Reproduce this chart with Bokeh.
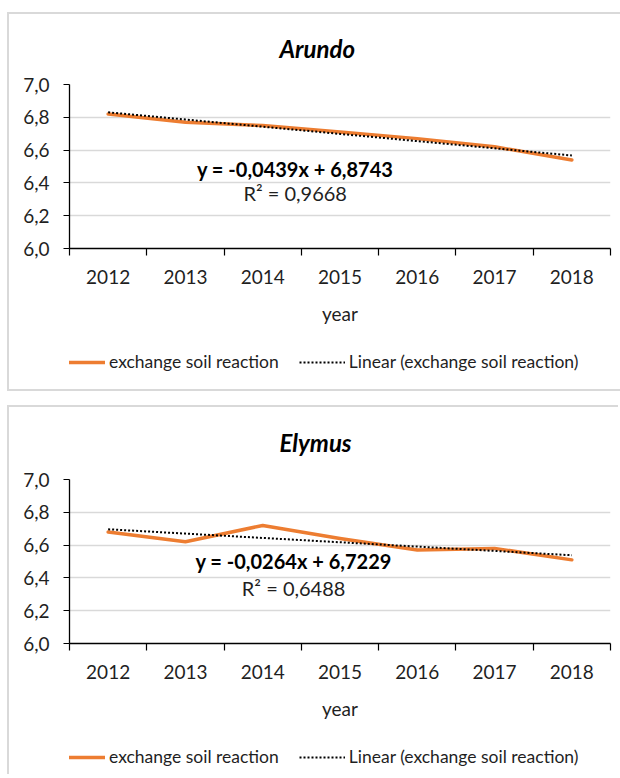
from bokeh.plotting import figure
from bokeh.layouts import column, row
from bokeh.models import FixedTicker, Legend, LegendItem, Title, Spacer
from bokeh.core.properties import value
from bokeh.embed import file_html
from bokeh.resources import INLINE

# ---- data ----
years = [2012, 2013, 2014, 2015, 2016, 2017, 2018]
arundo = [6.82, 6.77, 6.75, 6.71, 6.67, 6.62, 6.54]
elymus = [6.68, 6.62, 6.72, 6.64, 6.57, 6.58, 6.51]
arundo_fit = [-0.0439, 6.8743, 0.9668]   # slope, intercept, R²
elymus_fit = [-0.0264, 6.7229, 0.6488]
y_ticks = [6.0, 6.2, 6.4, 6.6, 6.8, 7.0]
y_tick_labels = ["6,0", "6,2", "6,4", "6,6", "6,8", "7,0"]
titles = ["Arundo", "Elymus"]
x_label = "year"
series_label = "exchange soil reaction"
trend_label = "Linear (exchange soil reaction)"

FONT = "Lato"
TXT = "#1f1f1f"
ORANGE = "#ED7D31"
W = 611


def fmt(v):
    return f"{v:.4f}".replace(".", ",")


def trend_of(fit):
    slope, intercept, _ = fit
    return [slope * (y - years[0] + 1) + intercept for y in years]


def make_chart(title, vals, fit, height, mb_top, title_standoff, eq_pos, r2_pos):
    slope, intercept, r2 = fit
    p = figure(width=W, height=height, x_range=(years[0] - 0.5, years[-1] + 0.5),
               y_range=(y_ticks[0], y_ticks[-1]), output_backend="svg",
               toolbar_location=None, min_border_left=60, min_border_right=10,
               min_border_top=mb_top, min_border_bottom=height - mb_top - 165)
    p.outline_line_color = None

    p.title = Title(text=title, align="left", vertical_align="top", text_font=FONT,
                    text_font_size="24px", text_font_style="bold italic",
                    text_color="#000000", offset=210, standoff=title_standoff)

    # axes
    p.xaxis.ticker = FixedTicker(ticks=years,
                                 minor_ticks=[y - 0.5 for y in years] + [years[-1] + 0.5])
    p.xaxis.major_tick_line_color = None
    p.xaxis.major_tick_in = 0
    p.xaxis.major_tick_out = 7
    p.xaxis.minor_tick_in = 0
    p.xaxis.minor_tick_out = 7
    p.xaxis.minor_tick_line_color = "#000000"
    p.xaxis.minor_tick_line_width = 1.2
    p.xaxis.axis_line_color = "#000000"
    p.xaxis.axis_line_width = 1.3
    p.xaxis.major_label_standoff = 14
    p.xaxis.axis_label = x_label
    p.xaxis.axis_label_standoff = 15
    p.xaxis.axis_label_text_font = FONT
    p.xaxis.axis_label_text_font_size = "19px"
    p.xaxis.axis_label_text_font_style = "normal"
    p.xaxis.axis_label_text_color = TXT

    p.yaxis.ticker = FixedTicker(ticks=y_ticks, minor_ticks=[])
    p.yaxis.major_label_overrides = {t: l for t, l in zip(y_ticks, y_tick_labels)}
    p.yaxis.major_tick_in = 0
    p.yaxis.major_tick_out = 6
    p.yaxis.major_tick_line_color = "#000000"
    p.yaxis.major_tick_line_width = 1.2
    p.yaxis.axis_line_color = "#000000"
    p.yaxis.axis_line_width = 1.3
    p.yaxis.major_label_standoff = 14

    for ax in (p.xaxis, p.yaxis):
        ax.major_label_text_font = FONT
        ax.major_label_text_font_size = "19px"
        ax.major_label_text_color = TXT

    p.xgrid.visible = False
    p.ygrid.grid_line_color = "#d9d9d9"
    p.ygrid.grid_line_width = 1.5

    # data line and linear trend
    p.line(years, vals, line_color=ORANGE, line_width=3.5, line_cap="round",
           line_join="round")
    p.line(years, trend_of(fit), line_color="#000000", line_width=2, line_dash="2 2")

    # equation
    p.text(x=[eq_pos[0]], y=[eq_pos[1]],
           text=[f"y = {fmt(slope)}x + {fmt(intercept)}"],
           text_font=value(FONT), text_font_style="bold", text_font_size="20px",
           text_align="center", text_baseline="middle", text_color="#000000")
    p.text(x=[r2_pos[0]], y=[r2_pos[1]], text=[f"R² = {fmt(r2)}"],
           text_font=value(FONT), text_font_size="20px",
           text_align="center", text_baseline="middle", text_color=TXT)
    return p


def make_legend(vals, fit, height, loc):
    # legend panel: same series drawn outside its (hidden) ranges, only the legend shows
    q = figure(width=W, height=height, x_range=(0, 1), y_range=(0, 1),
               x_axis_type=None, y_axis_type=None, output_backend="svg",
               toolbar_location=None, min_border=0)
    q.outline_line_color = None
    q.grid.visible = False
    r1 = q.line(years, vals, line_color=ORANGE, line_width=3.5)
    r2 = q.line(years, trend_of(fit), line_color="#000000", line_width=2, line_dash="2 2")
    legend = Legend(items=[LegendItem(label=series_label, renderers=[r1]),
                           LegendItem(label=trend_label, renderers=[r2])],
                    orientation="horizontal", location=loc,
                    glyph_width=46, glyph_height=20, label_standoff=4, spacing=20,
                    padding=0, margin=0, border_line_color=None,
                    background_fill_alpha=0, label_text_font=FONT,
                    label_text_font_size="17.5px", label_text_color=TXT)
    q.add_layout(legend)
    return q


c1 = make_chart(titles[0], arundo, arundo_fit, 325, 69, 39,
                (2014.42, 6.485), (2014.42, 6.34))
l1 = make_legend(arundo, arundo_fit, 50, (-10, 17))
c2 = make_chart(titles[1], elymus, elymus_fit, 325, 71, 41,
                (2014.40, 6.505), (2014.40, 6.34))
l2 = make_legend(elymus, elymus_fit, 44, (-10, 9))

box1 = column(c1, l1)
box1.styles = {"box-shadow": "0 0 0 2px #d9d9d9"}
box2 = column(c2, l2)
box2.styles = {"box-shadow": "-2px -2px 0 0 #d9d9d9"}

layout = row(Spacer(width=9, height=10),
             column(Spacer(width=W, height=14), box1, Spacer(width=W, height=18), box2))

open("out.html", "w").write(file_html(layout, INLINE))
